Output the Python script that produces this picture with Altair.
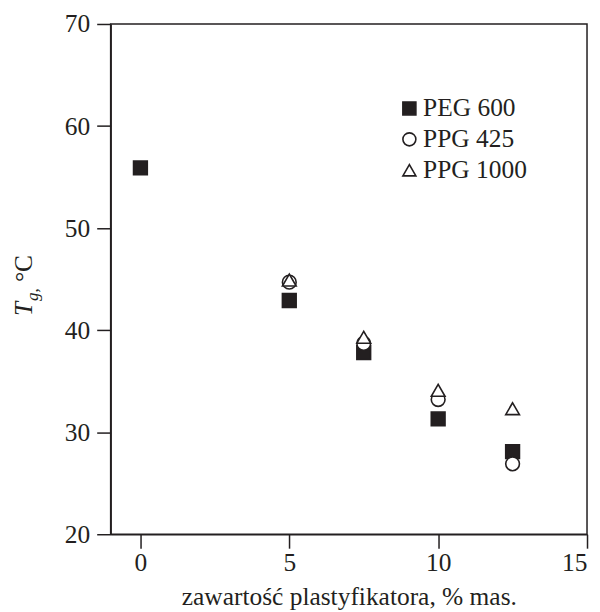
import altair as alt
import pandas as pd

# ---- data ----
series = ["PEG 600", "PPG 425", "PPG 1000"]
x_peg600 = [0, 5, 7.5, 10, 12.5]
y_peg600 = [55.9, 42.9, 37.8, 31.3, 28.1]
x_ppg425 = [5, 7.5, 10, 12.5]
y_ppg425 = [44.7, 38.7, 33.2, 26.9]
x_ppg1000 = [5, 7.5, 10, 12.5]
y_ppg1000 = [44.9, 39.3, 34.1, 32.3]
x_ticks = [0, 5, 10, 15]
y_ticks = [20, 30, 40, 50, 60, 70]

rows = []
for name, xs, ys in zip(series, [x_peg600, x_ppg425, x_ppg1000], [y_peg600, y_ppg425, y_ppg1000]):
    for xv, yv in zip(xs, ys):
        rows.append({"x": xv, "y": yv, "series": name})
df = pd.DataFrame(rows)

ink = "#231f20"
font = "Liberation Serif"
fs = 25.5
W, H = 478, 512

legend_def = dict(
    title=None,
    orient="none",
    legendX=287,
    legendY=72,
    labelFont=font,
    labelFontSize=fs,
    labelColor=ink,
    symbolSize=170,
    symbolStrokeWidth=1.6,
    rowPadding=4,
    labelOffset=1,
)

points = alt.Chart(df).mark_point(
    filled=True, size=190, stroke=ink, strokeWidth=1.6, opacity=1
).encode(
    x=alt.X(
        "x:Q",
        scale=alt.Scale(domain=[-1, 15], nice=False, zero=False),
        axis=alt.Axis(
            values=x_ticks,
            title="zawartość plastyfikatora, % mas.",
            labelPadding=2,
            titlePadding=9,
        ),
    ),
    y=alt.Y(
        "y:Q",
        scale=alt.Scale(domain=[20, 70], nice=False, zero=False),
        axis=alt.Axis(values=y_ticks, title=None, labelPadding=7),
    ),
    shape=alt.Shape(
        "series:N",
        scale=alt.Scale(domain=series, range=["square", "circle", "triangle-up"]),
        legend=alt.Legend(**legend_def),
    ),
    fill=alt.Fill(
        "series:N",
        scale=alt.Scale(domain=series, range=[ink, "white", "white"]),
        legend=alt.Legend(**legend_def),
    ),
    stroke=alt.Stroke(
        "series:N",
        scale=alt.Scale(domain=series, range=[ink, ink, ink]),
        legend=alt.Legend(**legend_def),
    ),
)

one = pd.DataFrame({"k": [0]})
ty0 = 293
t_T = alt.Chart(one).mark_text(
    text="T", angle=270, align="left", baseline="alphabetic",
    font=font, fontSize=fs, fontStyle="italic", color=ink
).encode(x=alt.value(-79), y=alt.value(ty0))
t_g = alt.Chart(one).mark_text(
    text="g,", angle=270, align="left", baseline="alphabetic",
    font=font, fontSize=17, fontStyle="italic", color=ink
).encode(x=alt.value(-73), y=alt.value(ty0 - 15))
t_C = alt.Chart(one).mark_text(
    text="°C", angle=270, align="left", baseline="alphabetic",
    font=font, fontSize=fs, color=ink
).encode(x=alt.value(-79), y=alt.value(ty0 - 34))

chart = alt.layer(points, t_T, t_g, t_C).properties(
    width=W,
    height=H,
    autosize=alt.AutoSizeParams(type="none"),
    padding={"left": 103, "top": 15, "right": 5, "bottom": 77},
).configure_view(
    stroke=ink, strokeWidth=1.5
).configure_axis(
    grid=False,
    domainColor=ink,
    domainWidth=1.5,
    tickColor=ink,
    tickWidth=1.5,
    tickSize=14,
    labelFont=font,
    labelFontSize=fs,
    labelColor=ink,
    titleFont=font,
    titleFontSize=fs,
    titleFontWeight="normal",
    titleColor=ink,
)

chart.save("out.html", embed_options={"renderer": "svg", "actions": False})
